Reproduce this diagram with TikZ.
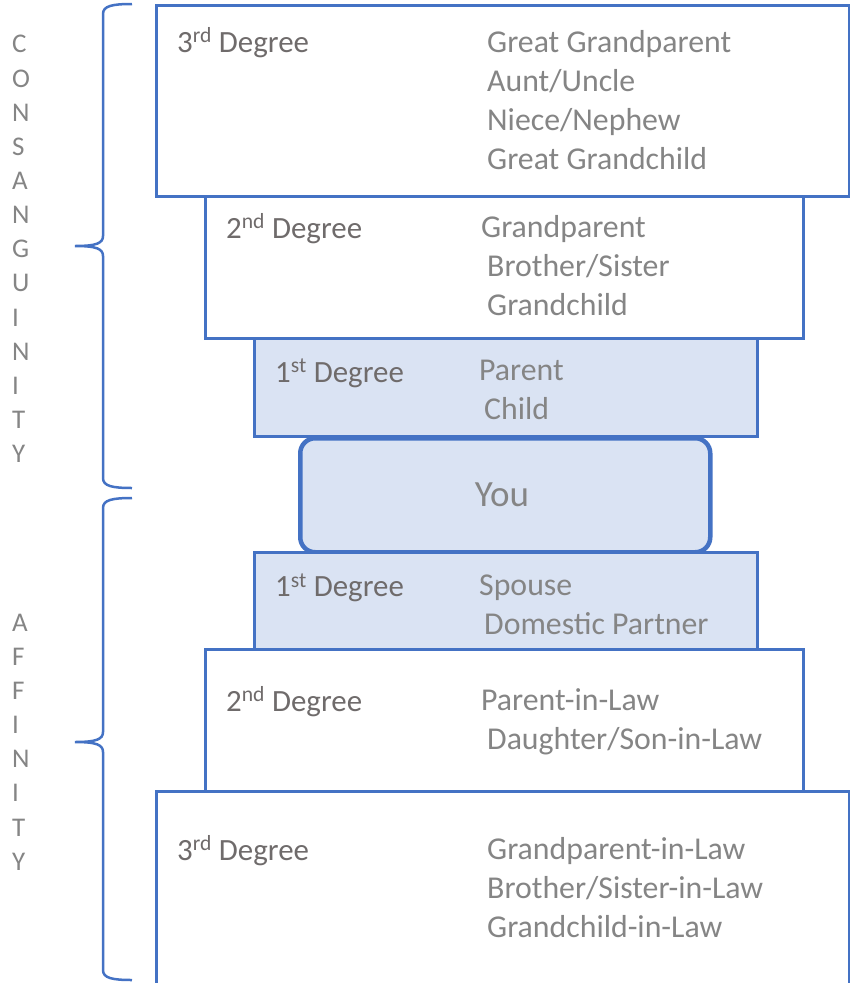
\documentclass[tikz,border=0pt]{standalone}
\usepackage{fontspec}
\setmainfont{Carlito}
\usepackage{tikz}
\definecolor{degblue}{HTML}{4472C4}
\definecolor{degfill}{HTML}{DAE3F3}
\definecolor{labgray}{HTML}{6F6B6B}
\definecolor{itemgray}{HTML}{858585}
\tikzstyle{degbox}=[rectangle,draw=degblue,line width=3.2pt,fill=white,inner sep=0pt,anchor=north west]
\tikzstyle{closebox}=[degbox,fill=degfill]
\tikzstyle{youbox}=[rectangle,rounded corners=15pt,draw=degblue,line width=4.5pt,fill=degfill,inner sep=0pt,anchor=north west,minimum width=410pt,minimum height=114pt]
\tikzstyle{deglabel}=[anchor=base west,inner sep=0pt,text=labgray,font=\fontsize{30.9}{36}\selectfont]
\tikzstyle{item}=[anchor=base west,inner sep=0pt,text=itemgray,font=\fontsize{31.8}{38}\selectfont]
\tikzstyle{sideword}=[anchor=west,align=left,inner sep=0pt,text=itemgray,font=\fontsize{27}{34.15}\selectfont]
\tikzstyle{braceline}=[draw=degblue,line width=2.5pt]
\usetikzlibrary{positioning}

\begin{document}
\begin{tikzpicture}[x=1pt,y=-1pt]
            \useasboundingbox (0,0) rectangle (850,983);

            % CONSANGUINITY PART

            \node[degbox,minimum width=693pt,minimum height=191pt] (c3) at (155,4) {};
            \node[degbox,minimum width=598pt,minimum height=142pt] (c2) at (204,195) {};
            \node[closebox,minimum width=503pt,minimum height=98pt] (c1) at (253,337) {};

            \node[deglabel] (c3lab) at (177,52) {3\textsuperscript{rd} Degree};
            \node[item] (c3a) at (487,52) {Great Grandparent};
            \node[item] (c3b) at (487,91) {Aunt/Uncle};
            \node[item] (c3c) at (487,130.5) {Niece/Nephew};
            \node[item] (c3d) at (487,169.5) {Great Grandchild};

            \node[deglabel] (c2lab) at (226,238) {2\textsuperscript{nd} Degree};
            \node[item] (c2a) at (481,237) {Grandparent};
            \node[item] (c2b) at (487,276) {Brother/Sister};
            \node[item] (c2c) at (487,315.5) {Grandchild};

            \node[deglabel] (c1lab) at (275,382) {1\textsuperscript{st} Degree};
            \node[item] (c1a) at (479,380) {Parent};
            \node[item] (c1b) at (484,419.5) {Child};

            % YOU

            \node[youbox] (you) at (298,436) {};
            \node[anchor=base,inner sep=0pt,text=itemgray,font=\fontsize{37}{42}\selectfont] (youlab) at (502,506) {You};

            % AFFINITY PART

            \node[closebox,minimum width=503pt,minimum height=97pt] (a1) at (253,551) {};
            \node[degbox,minimum width=598pt,minimum height=142pt] (a2) at (204,648) {};
            \node[degbox,minimum width=693pt,minimum height=215pt] (a3) at (155,790) {};

            \node[deglabel] (a1lab) at (275,596.5) {1\textsuperscript{st} Degree};
            \node[item] (a1a) at (479,595) {Spouse};
            \node[item] (a1b) at (484,634) {Domestic Partner};

            \node[deglabel] (a2lab) at (226,711) {2\textsuperscript{nd} Degree};
            \node[item] (a2a) at (481,710) {Parent-in-Law};
            \node[item] (a2b) at (487,749) {Daughter/Son-in-Law};

            \node[deglabel] (a3lab) at (177,860) {3\textsuperscript{rd} Degree};
            \node[item] (a3a) at (487,859.5) {Grandparent-in-Law};
            \node[item] (a3b) at (487,898.5) {Brother/Sister-in-Law};
            \node[item] (a3c) at (487,937) {Grandchild-in-Law};

            % Braces and side words

            \draw[braceline] (132,4) .. controls (112,4) and (103,6) .. (103,14) -- (103,236)
                .. controls (103,243) and (97,246) .. (75,246)
                .. controls (97,246) and (103,249) .. (103,256) -- (103,478)
                .. controls (103,486) and (112,488) .. (132,488);
            \draw[braceline] (132,498) .. controls (112,498) and (103,500) .. (103,508) -- (103,732)
                .. controls (103,739) and (97,742) .. (75,742)
                .. controls (97,742) and (103,745) .. (103,752) -- (103,970)
                .. controls (103,978) and (112,980) .. (132,980);

            \node[sideword] (consang) at (12,249) {C\\O\\N\\S\\A\\N\\G\\U\\I\\N\\I\\T\\Y};
            \node[sideword] (affin) at (12,742) {A\\F\\F\\I\\N\\I\\T\\Y};

        \end{tikzpicture}
\end{document}
